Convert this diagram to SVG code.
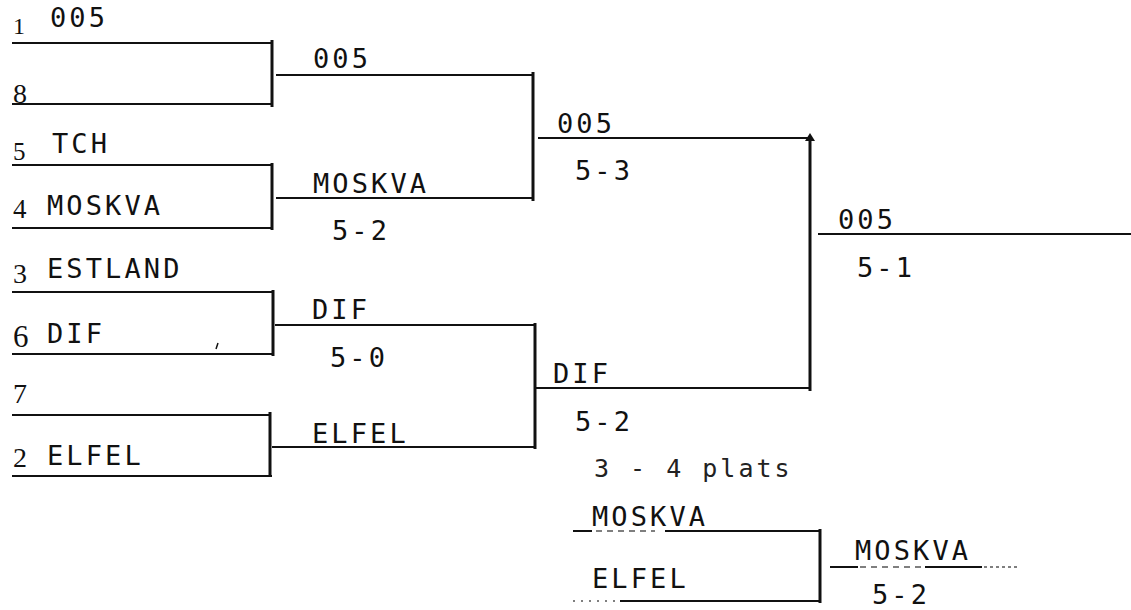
<svg xmlns="http://www.w3.org/2000/svg" width="1131" height="610" viewBox="0 0 1131 610">
<style>
.t{font-family:"DejaVu Sans Mono","Liberation Mono",monospace;font-size:27px;letter-spacing:3.1px;fill:#111}
.s{font-family:"Liberation Serif","DejaVu Serif",serif;font-size:28px;fill:#111}
.l{font-family:"DejaVu Sans Mono","Liberation Mono",monospace;font-size:25px;letter-spacing:3px;fill:#222;font-weight:300}
.h{stroke:#111;stroke-width:2;fill:none}
.v{stroke:#111;stroke-width:3;fill:none}
.f{stroke:#555;stroke-width:1.5;fill:none}
</style>
<rect width="1131" height="610" fill="#fff"/>
<g id="connectors">
  <path class="h" d="M12 43H272M12 104H272"/>
  <path class="v" d="M272 40V107"/>
  <path class="h" d="M12 165H272M12 228H272"/>
  <path class="v" d="M272 163V230"/>
  <path class="h" d="M12 292H273M12 354H273"/>
  <path class="v" d="M273 290V356"/>
  <path class="h" d="M12 415H270M12 476H272"/>
  <path class="v" d="M270 412V476"/>
  <path class="h" d="M276 75H533M276 198H533"/>
  <path class="v" d="M533 72V201"/>
  <path class="h" d="M275 325H535M272 447H535"/>
  <path class="v" d="M535 323V449"/>
  <path class="h" d="M538 138H810M535 388H810"/>
  <path class="v" d="M810 138V391"/>
  <path d="M810 133L805 141H815Z" fill="#111"/>
  <path class="h" d="M818 234H1131"/>
  <path class="h" d="M573 531H592M665 531H820"/>
  <path class="f" d="M596 531H655" stroke-dasharray="6 5"/>
  <path class="h" d="M620 601H820"/>
  <path class="f" d="M573 601H618" stroke-dasharray="2 6"/>
  <path class="v" d="M820 529V603"/>
  <path class="h" d="M830 567H858M925 567H982"/>
  <path class="f" d="M860 567H922" stroke-dasharray="6 5"/>
  <path class="f" d="M984 567H1018" stroke-dasharray="3 3"/>
  <path d="M218 343L216 349" stroke="#111" stroke-width="1.5"/>
</g>
<g id="seed1"><text class="s" x="13" y="34" style="font-size:24px">1</text><text class="t" x="50" y="27">005</text></g>
<g id="seed8"><text class="s" x="13" y="103">8</text></g>
<g id="seed5"><text class="s" x="13" y="160" style="font-size:25px">5</text><text class="t" x="52" y="153">TCH</text></g>
<g id="seed4"><text class="s" x="13" y="218" style="font-size:27px">4</text><text class="t" x="47" y="215">MOSKVA</text></g>
<g id="seed3"><text class="s" x="13" y="283">3</text><text class="t" x="47" y="278">ESTLAND</text></g>
<g id="seed6"><text class="s" x="13" y="347" style="font-size:31px">6</text><text class="t" x="47" y="343">DIF</text></g>
<g id="seed7"><text class="s" x="13" y="403">7</text></g>
<g id="seed2"><text class="s" x="13" y="467">2</text><text class="t" x="47" y="465">ELFEL</text></g>
<g id="qf1"><text class="t" x="313" y="68">005</text></g>
<g id="qf2"><text class="t" x="313" y="193">MOSKVA</text><text class="t" x="332" y="240">5-2</text></g>
<g id="qf3"><text class="t" x="312" y="319">DIF</text><text class="t" x="330" y="367">5-0</text></g>
<g id="qf4"><text class="t" x="312" y="443">ELFEL</text></g>
<g id="sf1"><text class="t" x="557" y="133">005</text><text class="t" x="575" y="180">5-3</text></g>
<g id="sf2"><text class="t" x="553" y="383">DIF</text><text class="t" x="575" y="431">5-2</text></g>
<g id="final"><text class="t" x="838" y="229">005</text><text class="t" x="857" y="277">5-1</text></g>
<g id="third-title"><text class="l" x="594" y="477">3 - 4 plats</text></g>
<g id="third1"><text class="t" x="592" y="526">MOSKVA</text></g>
<g id="third2"><text class="t" x="592" y="588">ELFEL</text></g>
<g id="third-winner"><text class="t" x="855" y="560">MOSKVA</text><text class="t" x="872" y="604">5-2</text></g>
</svg>
